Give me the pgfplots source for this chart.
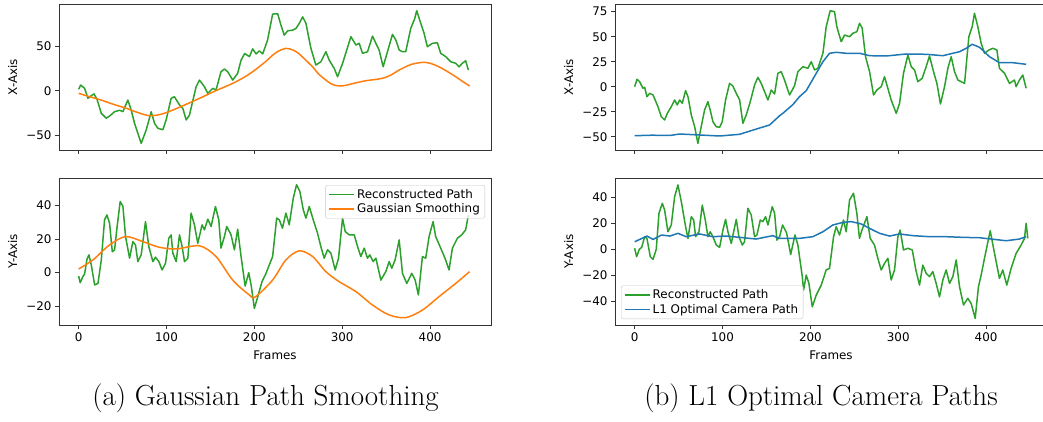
\documentclass[border=0pt]{standalone}
\usepackage{fontspec}
\newfontfamily\dejavu{DejaVu Sans}
\usepackage{pgfplots}
\pgfplotsset{compat=1.18}

\definecolor{mplgreen}{HTML}{2CA02C}
\definecolor{mplorange}{HTML}{FF7F0E}
\definecolor{mplblue}{HTML}{1F77B4}

\newcommand{\plotfont}{\dejavu\fontsize{11.9}{14}\selectfont}

\pgfplotsset{
  mplpanel/.style={
    scale only axis, width=432pt, height=146pt,
    xmin=-22.35, xmax=469.35,
    axis line style={black!80, line width=0.9pt},
    tick style={black!80, line width=0.9pt},
    tick align=outside, major tick length=4pt,
    xtick={0,100,200,300,400},
    xtick pos=lower, ytick pos=left,
    font=\plotfont,
    ticklabel style={font=\plotfont},
    /pgf/number format/assume math mode=true,
    ylabel style={at={(axis description cs:-0.107,0.5)}, anchor=center},
    xlabel style={at={(axis description cs:0.5,0)}, yshift=-30pt, anchor=center},
    every axis plot/.append style={line width=1.5pt, line join=round},
    legend style={font=\plotfont, draw=black!22, rounded corners=2pt,
      fill=white, fill opacity=0.8, text opacity=1},
    legend cell align=left,
    legend image code/.code={\draw[#1, line width=1.5pt] (0pt,0pt) -- (25pt,0pt);},
  },
  notxlabels/.style={xticklabels={}},
}

\begin{document}
\begin{tikzpicture}
\useasboundingbox (0pt,0pt) rectangle (1043pt,421pt);

% ---------- (a) Gaussian path smoothing: horizontal component ----------
\begin{axis}[mplpanel, notxlabels, at={(59pt,271pt)}, anchor=south west,
  ymin=-66.9, ymax=97.9, ytick={-50,0,50}, yticklabels={−50,0,50},
  ylabel={X-Axis}]
\addplot[mplgreen] coordinates {
(0,1.6) (2.3,6.4) (6.8,2.7) (10.6,-8.6) (15.5,-4.8) (17.5,-3.6) (21,-10) (25.8,-25.5)
(31.4,-31) (35.2,-28.6) (40.9,-23.7) (46.6,-22) (50.4,-23.6) (56,-10.5) (59.9,-22)
(63.6,-36.8) (71.2,-59.4) (76.9,-44.3) (82.6,-23.7) (86.4,-36.8) (90.2,-42.4) (95.8,-44)
(99.6,-33) (105.3,-8.6) (109,-6.8) (114.8,-16) (118.6,-20) (122.4,-33) (126.1,-27.6)
(133.7,4.5) (137.5,12) (143.2,4.5) (147,-3) (152.7,2.7) (156.4,0.8) (162,21.4)
(165.9,24.5) (169.7,21.4) (175.4,12) (181,19.6) (184.9,34.6) (189,42) (194.4,38.5)
(198.1,47.2) (202,41.6) (205.7,45) (209.5,41.6) (215,57) (220.8,86.5) (226.5,87)
(230.3,74) (234,62.8) (237.9,67.6) (243.6,68.4) (247.4,70.3) (251.1,76) (255,83.4)
(258.7,76) (264.4,47.8) (270,29) (275.7,32.7) (281.4,44) (285.2,34.6) (290.9,25.2)
(294.7,15.8) (300.4,30.8) (309.9,61) (315.6,51.6) (319.3,53.5) (323.1,42.2) (328.8,44)
(334.5,61.7) (338.3,53.5) (342,46) (346.6,27.1) (351.5,44) (357.2,63.6) (361,57.2)
(364.8,46) (368.6,44) (372.3,44) (378,70.3) (382.6,81.6) (384.8,90.4) (389.4,76)
(393.2,64.7) (396.9,49.6) (402.6,53.5) (408.3,54.2) (412.1,42.2) (417.8,38.5)
(423.5,32.7) (429.2,31) (433,27) (436.7,31) (440.5,33.8) (443.6,23.3)
};
\addplot[mplorange, smooth] coordinates {
(0,-3) (10,-6) (25.5,-10.5) (40,-15.5) (54.2,-19.8) (67,-24.5) (80.7,-28.2) (94,-26.5)
(107.2,-21.8) (122,-15.5) (137.5,-8.6) (155,-0.5) (175.3,8.3) (188,15) (198,21.4)
(213,33) (220.8,40.2) (228,45) (236,47.8) (244,46) (251,41.6) (258,35) (266.3,27)
(273,19) (281.4,12) (288,7.5) (294.7,5.6) (301,5.6) (307.9,7) (316,9) (326.9,11.3)
(336,12.5) (345.8,14) (355,17.5) (364.8,23.3) (378,29.5) (391.3,32) (400,31)
(410.2,27) (420,21.5) (429.2,15.8) (437,10.5) (445,5.3)
};
\end{axis}

% ---------- (a) Gaussian path smoothing: vertical component ----------
\begin{axis}[mplpanel, at={(59pt,96pt)}, anchor=south west, height=147pt,
  ymin=-31.2, ymax=56.4, ytick={-20,0,20,40}, yticklabels={−20,0,20,40},
  ylabel={Y-Axis}, xlabel={Frames},
  legend style={at={(1,1)}, anchor=north east, xshift=-6pt, yshift=-7pt}]
\addplot[mplgreen] coordinates {
(0,-2) (1.8,-6) (4.8,-2.4) (6.8,-0.8) (9.5,8) (11.7,10.6) (14.4,4.6) (18.2,-7.3)
(22,-6.4) (25.8,7.5) (29.5,31.5) (32.2,34.4) (35.2,29.5) (38.3,12.5) (40.9,13.5)
(43.6,26.5) (47.3,42.4) (50.4,39.5) (53.4,21.5) (58,8.6) (61.7,18.5) (64.7,16.5)
(67.4,6.6) (71.2,10.6) (76.1,30.4) (79.9,15.5) (84.5,6.6) (87.5,9.2) (91.3,6.6)
(95,1.6) (98.9,5.6) (102.6,20.5) (105.3,22.5) (107.2,11.6) (111,6.6) (114.8,22.5)
(117.8,15.5) (120.5,6.6) (124.3,8.6) (128,35.5) (131.8,28.5) (135.6,17.5) (140.5,28.5)
(143.2,25.5) (147,31.9) (150.8,27.5) (155.7,39.4) (159.5,31.5) (162,14.6) (165.9,21.5)
(168.6,27.5) (173.5,22.5) (177.3,13.6) (181,25.9) (184.9,9.6) (189.5,-8) (193.6,0)
(196.5,-8) (200,-21.3) (203.9,-14.3) (208.7,-5.4) (213.3,-0.4) (217,4.6) (220.8,9.6)
(225.4,32.5) (228.4,31.5) (232,26.5) (235.9,35.5) (239.7,28.5) (244.3,44.4) (248,52.4)
(251.8,48.4) (255.7,37.4) (258.7,32.5) (262.5,39.4) (267,31.5) (271.9,23.5)
(275.7,15.5) (279.5,8.6) (283.3,13.6) (287.1,11.6) (292,1.6) (295.8,8.6) (300.4,32.5)
(303.4,24.5) (308,22.5) (313.7,22.5) (317.5,15.5) (321.2,9.6) (325,14.6) (328.8,8.6)
(331.4,10.6) (335.2,6.6) (338.3,8.6) (344,-4.4) (349.6,0.6) (353.4,6.6) (356.4,2.6)
(360.2,7.6) (364.8,19.5) (368.6,-0.4) (373.5,-6.4) (379.2,-0.4) (383,-4.4)
(386.7,-13.3) (391.3,9.6) (395,8.6) (398.9,21.5) (403.4,30.4) (406.4,21.5) (412.1,14.6)
(417,8.6) (421.6,1.6) (425.4,14.6) (431.1,20.5) (436,22.5) (440.5,25.5) (443.6,34.4)
};
\addlegendentry{Reconstructed Path}
\addplot[mplorange, smooth] coordinates {
(0,2.2) (16.3,7.6) (35.2,16.5) (53.4,21.5) (73,18.5) (91.3,15.2) (111,14.1)
(137.5,16) (156.4,9.6) (175.3,-4.4) (194.3,-13.3) (201,-14.5) (220.8,-4.4)
(235.9,7.6) (251.1,13) (266.3,9.6) (281.4,0.6) (296.6,-5.4) (315.6,-11.3)
(334.5,-19.3) (353.4,-25.2) (372.3,-26.8) (391.3,-22.3) (410.2,-14.3) (429.2,-6.4)
(445,0.6)
};
\addlegendentry{Gaussian Smoothing}
\end{axis}

% ---------- (b) L1 optimal camera path: horizontal component ----------
\begin{axis}[mplpanel, notxlabels, at={(615pt,271pt)}, anchor=south west,
  ymin=-63.3, ymax=82.7, ytick={-50,-25,0,25,50,75},
  yticklabels={−50,−25,0,25,50,75}, ylabel={X-Axis}]
\addplot[mplgreen] coordinates {
(0,0) (2.7,7.4) (5.7,5) (9.5,-1.6) (11.4,-0.6) (14,-10) (17.1,-6.6) (20.9,-8.3)
(26.6,-20) (30.3,-30) (34.1,-33.3) (37.2,-26.6) (41.7,-20) (45.5,-13.3) (48.5,-18.3)
(51.2,-13.3) (54.2,-16.6) (58,-4) (60.7,-10) (64.5,-28.3) (68.3,-40) (72,-56.7)
(75.8,-40) (79.6,-23.3) (83.4,-15) (86,-23.3) (89.1,-35) (92.9,-40) (96.7,-40.6)
(99.7,-35) (103.5,-13.3) (108,3.3) (111.8,0.7) (115.6,-6.6) (119.5,-13.3) (123.2,-36.6)
(127,-28.3) (131.6,-15) (136.5,1.7) (140.3,9.4) (144.1,3.3) (147.9,-5) (151.7,-13.3)
(155.5,-3.3) (159.3,-7.3) (163,13.4) (166.8,15) (170.6,6.7) (176.3,-8.3) (182,1)
(185.8,15) (191.5,20) (197.2,18.4) (201,25) (204.8,16.7) (208.6,18.4) (214.3,33.4)
(218,60) (222.6,76) (227.5,75) (230.1,60) (235.1,45) (238.9,51.7) (244.6,50)
(248.4,53.4) (252.9,55) (256,63.4) (259,58.4) (262.8,30) (267.4,15) (271.9,-8.3)
(275.7,-3.3) (280.6,0) (284.4,10) (288.2,-1.6) (292,-13.3) (297.7,-26.6) (301.5,-16.6)
(306,13.4) (311,31.7) (314.8,20) (318.6,16.7) (322.3,5) (327.3,8.4) (331.8,20)
(335.6,30.7) (340.2,15) (344,3.4) (348.1,-17.3) (352.7,0) (356.5,18.4) (360.3,30)
(364.1,15) (367.9,6.7) (371.7,5) (375.5,3.3) (380.4,50) (384.2,60) (386.8,73.4)
(390.6,60) (394.4,43.4) (398.2,33.4) (403.2,36.7) (407.7,38.4) (412.3,36.7)
(415.2,18.4) (421,13.4) (426.6,3.3) (432.3,6.7) (434.2,0) (438,6.7) (441.8,11.7)
(445.6,-1.6)
};
\addplot[mplblue] coordinates {
(0,-49) (20,-48.5) (40,-48.8) (51.2,-47.3) (74,-48.3) (96.7,-49.3) (119.5,-47.6)
(135,-43.3) (153.6,-38.3) (165,-29) (168.7,-26.6) (180,-18) (187.6,-10) (195.3,-4)
(206.7,13.4) (214.3,25) (221.8,33.4) (229.4,34.4) (240.8,33.4) (256,33.4) (267.4,31)
(286.3,30.7) (309,32.7) (331.8,32.4) (350.8,31) (369.8,35) (377.4,38.4) (384.2,42.4)
(392.5,39.4) (403.9,30) (415.2,24) (430.4,24) (445.6,22.4)
};
\end{axis}

% ---------- (b) L1 optimal camera path: vertical component ----------
\begin{axis}[mplpanel, at={(615pt,96pt)}, anchor=south west, height=146.7pt,
  ymin=-58.2, ymax=54.6, ytick={-40,-20,0,20,40},
  yticklabels={−40,−20,0,20,40}, ylabel={Y-Axis}, xlabel={Frames},
  legend style={at={(0,0)}, anchor=south west, xshift=6pt, yshift=6pt}]
\addplot[mplgreen] coordinates {
(0,0.8) (2.3,-5.7) (5.3,0) (8,1.5) (11.4,9.7) (14,8.4) (17.8,-5.7) (20.9,-7.7)
(24.6,0) (27.7,27.7) (31.5,35.4) (34.1,30.3) (37.9,13.5) (41.7,18.7) (45.5,40.5)
(49.3,49.5) (53.1,36.7) (58,17.4) (60.7,8.4) (64.5,25.1) (67.2,22.5) (69.4,9.7)
(73.2,13.5) (77,34) (80.4,22.5) (83.4,9.7) (86,13.5) (89.1,9.7) (92.9,3.3) (96.7,1.5)
(100.5,14.8) (103.5,23) (106.2,13.5) (110,4.5) (112.7,13.5) (115.7,23) (118.7,9.7)
(122.5,3.3) (125.1,5.8) (128.9,31.5) (132.7,26.4) (136.5,9.7) (139.2,11) (143,22.5)
(146,21.3) (149,25.1) (151.7,18.7) (156.6,32.8) (159.3,27.7) (161.9,7.1) (165,9.7)
(168.4,18.7) (173,12.5) (177.6,-4) (182.5,11) (185.8,3.3) (190.8,-21) (192.3,-31.3)
(195.3,-19.8) (198.3,-26) (202.2,-44.2) (206.7,-35.2) (212.4,-27.5) (218,-15.9)
(221.8,-14.6) (226.4,9.7) (229.4,17.4) (233.2,11) (237.7,22.5) (240.8,13.5)
(244.6,37.9) (249.1,43.1) (252.9,27.7) (255.9,8.4) (258.7,14.8) (264.4,25.1)
(268.1,8.4) (273,3.3) (276.8,-6.9) (280.6,-15.9) (284.4,-10.8) (288.2,-6.9)
(292,-23.6) (295.8,-15.9) (299.6,9.7) (302.2,14.8) (306,-0.5) (311,0.8) (316,-0.5)
(320.1,-15.9) (324.2,-27.5) (328,-12.1) (331.8,-18.5) (335.6,-21) (339.4,-17.2)
(343.2,-26.2) (347,-36.5) (350.8,-23.6) (354.6,-15.9) (358.4,-26.2) (362.2,-21)
(366,-8.2) (369.8,-28.8) (374.3,-42.8) (379.2,-37.7) (383,-41.6) (387.6,-53.1)
(391.3,-28.8) (394.4,-19.8) (398.2,-6.9) (404.7,14.3) (409.6,-3.1) (415.2,-22.3)
(419,-15.9) (423.6,-27.5) (428.5,-14.6) (434.2,-3.1) (439.9,3.3) (443.7,8.4)
(445.6,20) (447.5,8.4)
};
\addlegendentry{Reconstructed Path}
\addplot[mplblue] coordinates {
(0,5.8) (14,10.2) (21,7.6) (30.7,11) (40,10.2) (49.3,12.3) (58.7,9.7) (73.9,11.8)
(89,9.7) (104,10.2) (119.5,9.2) (138.3,7.9) (157.2,10.5) (165,8.4) (187.6,8.4)
(202.8,9.7) (214.3,13.5) (225.6,18.7) (237,20.7) (246.5,21.3) (257.9,19.5)
(267.4,16.1) (278.8,12.3) (290.1,10.2) (301.5,11.8) (316.7,10.5) (335.6,9.7)
(354.6,9.7) (373.5,9.2) (392.5,8.9) (405.8,7.9) (422.9,6.6) (438,7.9) (445.6,9.7)
};
\addlegendentry{L1 Optimal Camera Path}
\end{axis}

% sub-figure captions
\node[font=\fontsize{29}{33}\selectfont, anchor=base] at (265.5pt,16pt)
  {(a) Gaussian Path Smoothing};
\node[font=\fontsize{29}{33}\selectfont, anchor=base] at (821pt,16pt)
  {(b) L1 Optimal Camera Paths};
\end{tikzpicture}
\end{document}
